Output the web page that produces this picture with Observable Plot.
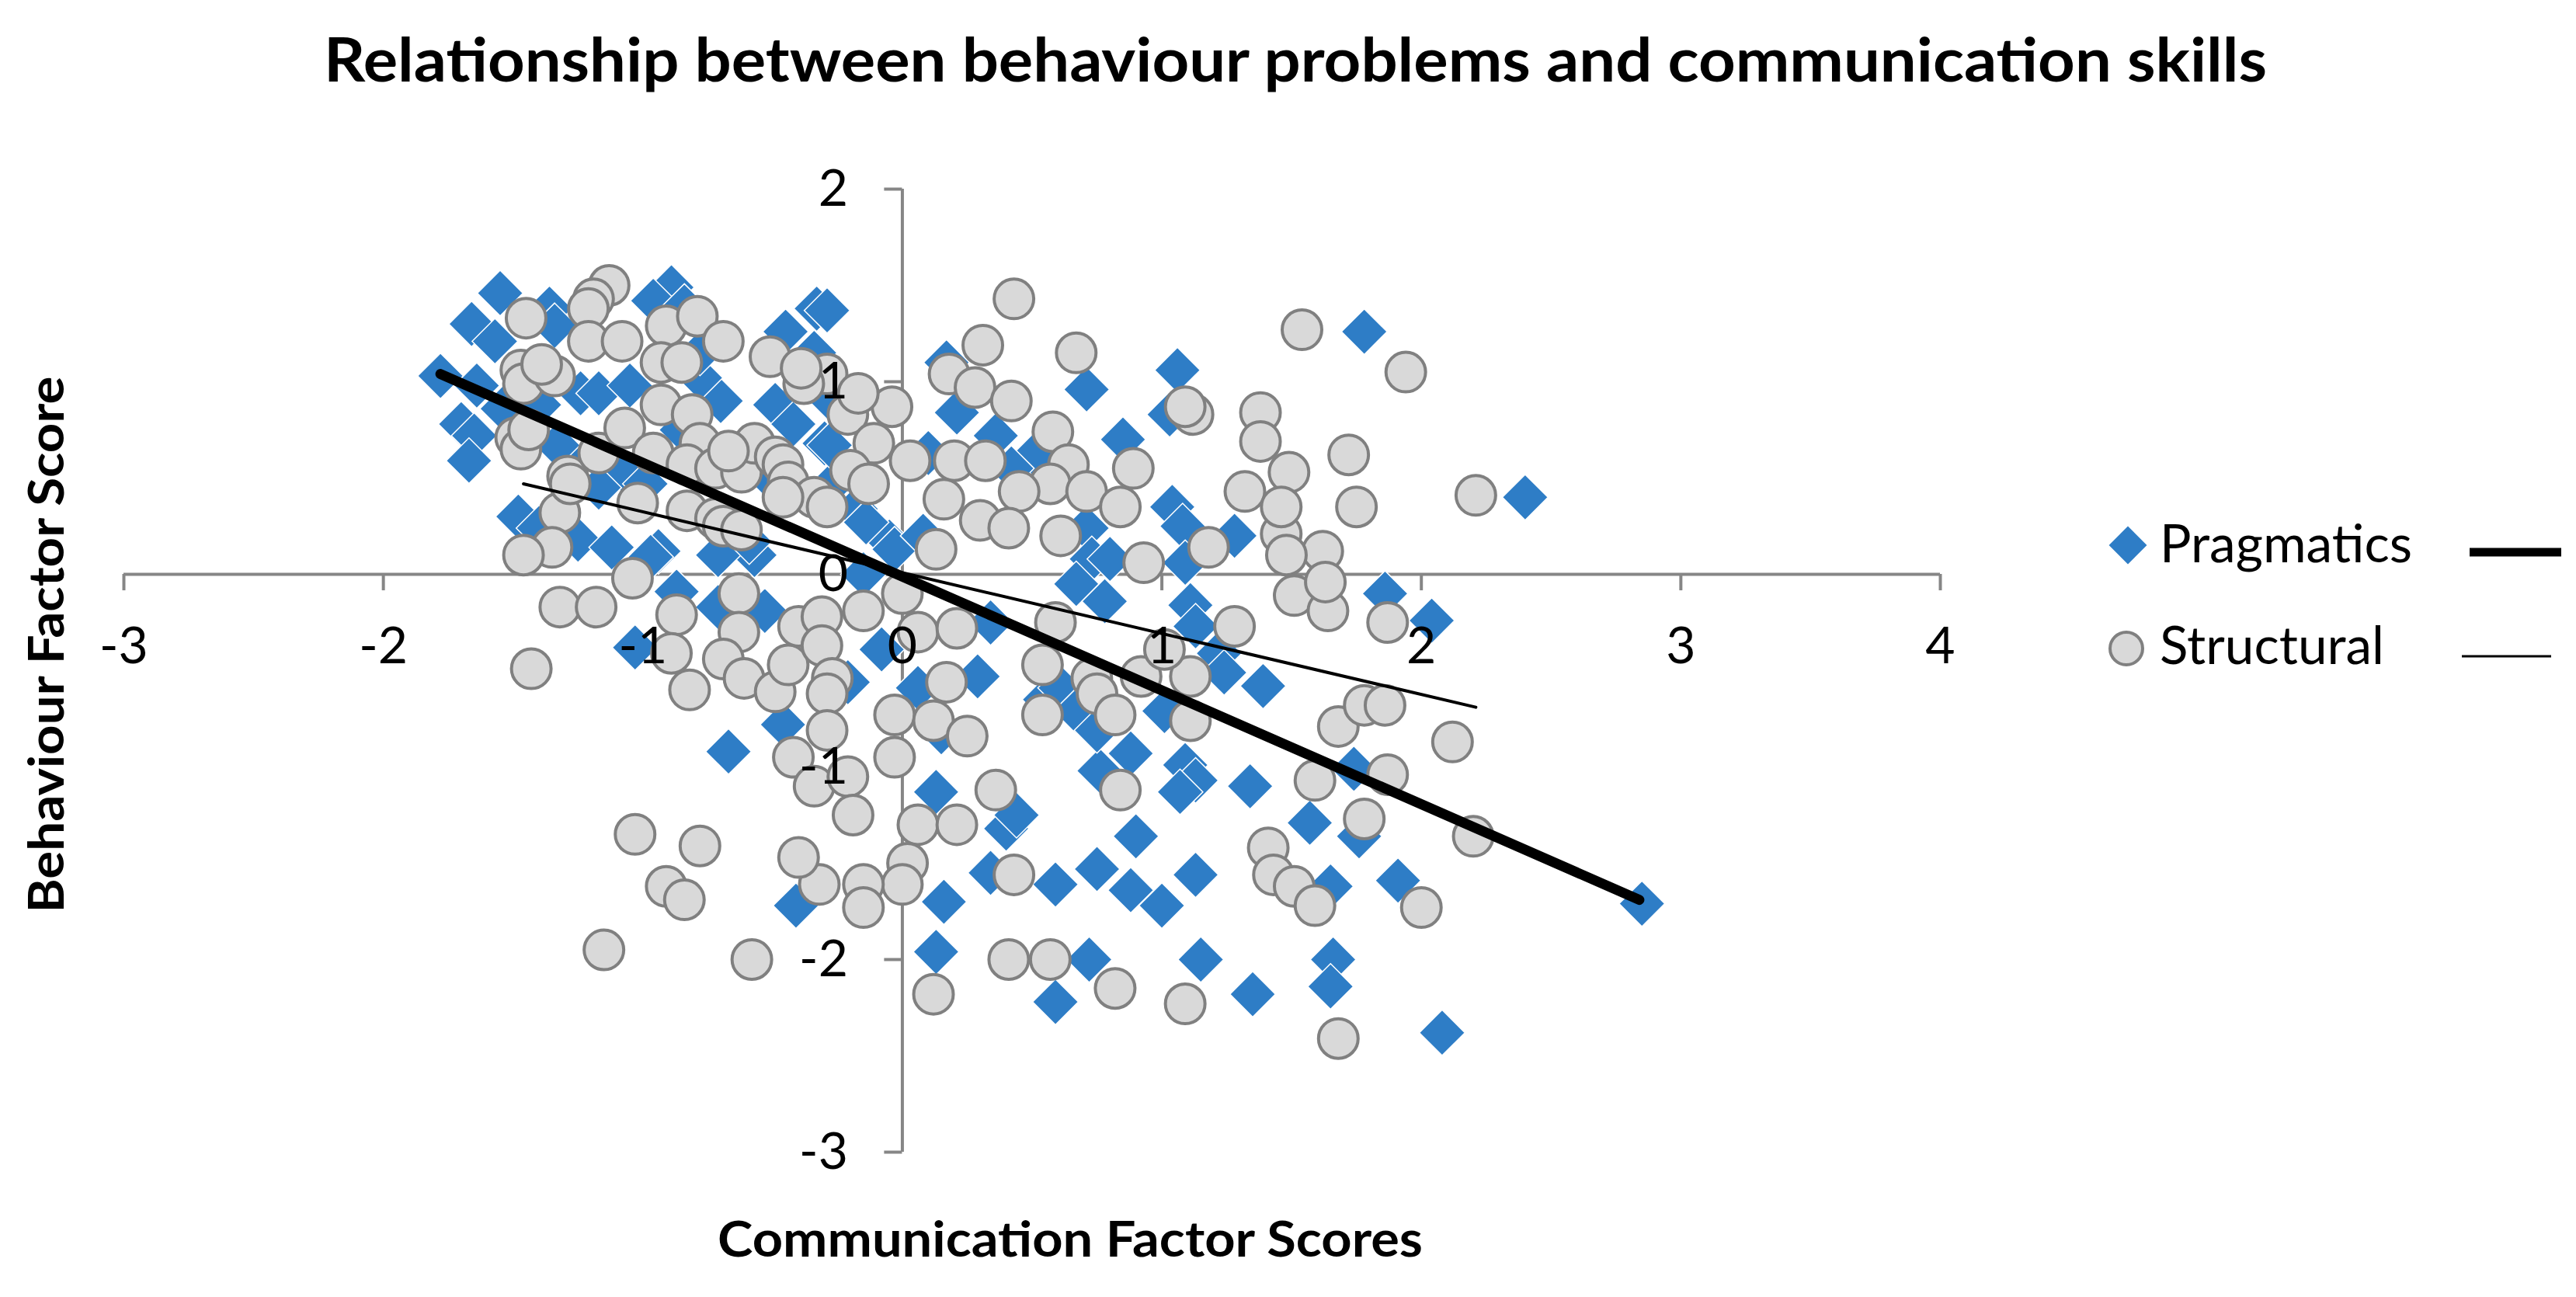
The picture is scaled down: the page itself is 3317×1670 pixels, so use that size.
<!DOCTYPE html>
<html><head><meta charset="utf-8">
<script src="https://cdn.jsdelivr.net/npm/d3@7"></script>
<script src="https://cdn.jsdelivr.net/npm/@observablehq/plot@0.6"></script>
<style>
html,body{margin:0;padding:0;background:#fff;}
#wrap{position:relative;width:3317px;height:1670px;overflow:hidden;background:#fff;}
#wrap svg{position:absolute;left:0;top:0;}
</style></head>
<body><div id="wrap"></div>
<script>
const titleText = "Relationship between behaviour problems and communication skills";
const xLabelText = "Communication Factor Scores";
const yLabelText = "Behaviour Factor Score";
const seriesNames = ["Pragmatics", "Structural"];
const xTicks = [-3, -2, -1, 0, 1, 2, 3, 4];
const yTicks = [-3, -2, -1, 0, 1, 2];

const pragmatics = [
[-1.55,1.46],[-1.66,1.30],[-1.57,1.21],[-1.36,1.38],[-1.34,1.29],[-1.78,1.03],[-1.64,0.98],[-1.70,0.78],
[-1.65,0.72],[-1.67,0.59],[-1.54,0.86],[-1.40,0.88],[-1.29,0.61],[-1.33,0.67],[-0.89,1.49],[-0.96,1.42],
[-0.84,1.39],[-0.70,0.90],[-0.78,1.02],[-0.33,1.38],[-0.45,1.26],[-0.34,1.15],[-0.49,0.88],[-0.42,0.78],
[-1.07,0.53],[-1.17,0.45],[-1.48,0.30],[-1.40,0.24],[-1.25,0.18],[-1.12,0.14],[-0.94,0.12],[-0.99,0.47],
[-0.57,0.10],[-0.71,0.10],[-1.24,0.94],[-1.17,0.94],[-0.85,0.75],[-1.05,0.98],[-0.78,1.15],[-0.52,0.51],
[-0.28,0.91],[-0.30,0.68],[-0.24,0.51],[-0.18,0.34],[-0.05,0.17],[-0.15,0.00],[-0.97,0.09],[-0.87,-0.09],
[-1.03,-0.38],[-0.59,0.17],[-0.29,1.37],[0.17,1.10],[0.21,0.84],[0.36,0.72],[0.71,0.96],[1.06,1.06],
[1.03,0.83],[0.85,0.70],[0.10,0.63],[0.51,0.62],[0.42,0.55],[1.04,0.35],[1.08,0.25],[1.28,0.20],
[-0.14,0.27],[-0.03,0.13],[0.08,0.20],[0.71,0.24],[0.73,0.08],[0.80,0.08],[1.09,0.06],[-0.28,0.67],
[1.78,1.26],[2.40,0.40],[-0.67,-0.92],[-0.46,-0.78],[-0.41,-1.72],[0.13,-1.13],[0.13,-1.96],[0.16,-1.70],
[0.34,-1.55],[0.40,-1.32],[0.44,-1.25],[0.59,-1.61],[0.75,-1.53],[0.88,-1.64],[1.00,-1.72],[0.90,-1.36],
[0.88,-0.93],[0.76,-1.02],[1.09,-0.99],[1.13,-1.07],[1.07,-1.13],[1.34,-1.10],[1.13,-1.56],[1.15,-2.00],
[0.59,-2.22],[0.72,-2.00],[1.35,-2.18],[1.66,-2.00],[1.65,-2.14],[1.65,-1.62],[1.57,-1.29],[1.76,-1.36],
[1.74,-1.01],[1.91,-1.59],[2.08,-2.38],[1.39,-0.58],[2.04,-0.24],[1.86,-0.10],[-0.08,-0.39],[-0.21,-0.56],
[0.06,-0.59],[0.29,-0.53],[0.55,-0.65],[0.61,-0.59],[0.67,-0.71],[0.75,-0.81],[1.01,-0.71],[1.11,-0.16],
[1.13,-0.27],[1.22,-0.41],[1.24,-0.51],[0.67,-0.05],[0.78,-0.14],[0.34,-0.25],[0.15,-0.82],[-0.71,-0.17],
[-0.53,-0.19],[2.85,-1.71]
];

const structural = [
[-1.13,1.50],[-1.19,1.43],[-1.21,1.38],[-1.45,1.33],[-1.21,1.21],[-1.08,1.21],[-0.91,1.29],[-0.79,1.34],
[-0.93,1.10],[-0.85,1.10],[-0.69,1.21],[-0.51,1.13],[-1.47,1.06],[-1.46,0.99],[-1.34,1.03],[-1.39,1.09],
[-1.49,0.71],[-1.47,0.65],[-1.44,0.75],[-1.29,0.51],[-1.17,0.63],[-1.07,0.76],[-0.96,0.63],[-0.93,0.88],
[-0.81,0.83],[-0.78,0.68],[-0.83,0.57],[-0.72,0.55],[-0.62,0.53],[-0.57,0.68],[-0.67,0.64],[-0.49,0.61],
[-0.46,0.57],[-0.44,0.48],[-0.34,0.40],[-0.46,0.40],[-0.29,0.35],[-1.02,0.37],[-0.83,0.33],[-0.72,0.29],
[-0.69,0.25],[-0.62,0.23],[-1.32,0.32],[-1.35,0.14],[-1.46,0.10],[-1.28,0.47],[-0.29,1.04],[-0.38,0.99],
[-0.39,1.07],[0.43,1.43],[0.31,1.19],[0.67,1.15],[0.18,1.04],[0.28,0.97],[0.42,0.90],[-0.21,0.83],
[-0.04,0.87],[-0.17,0.94],[-0.11,0.68],[-0.20,0.54],[-0.13,0.47],[0.03,0.59],[0.20,0.59],[0.32,0.59],
[0.58,0.74],[0.64,0.57],[0.57,0.47],[0.45,0.43],[0.71,0.43],[0.89,0.55],[0.84,0.35],[0.16,0.39],
[0.30,0.28],[0.41,0.24],[0.61,0.20],[0.13,0.13],[0.93,0.06],[1.12,0.83],[1.09,0.87],[1.38,0.84],
[1.38,0.69],[1.32,0.43],[1.18,0.14],[1.46,0.21],[1.54,1.27],[1.94,1.05],[1.72,0.62],[1.75,0.35],
[2.21,0.41],[1.49,0.53],[1.46,0.35],[1.62,0.12],[1.48,0.10],[-1.32,-0.17],[-1.18,-0.17],[-1.04,-0.02],
[-1.43,-0.49],[-0.87,-0.21],[-0.89,-0.41],[-0.82,-0.60],[-1.03,-1.35],[-0.91,-1.62],[-0.84,-1.69],[-1.15,-1.95],
[-0.63,-0.10],[-0.63,-0.30],[-0.69,-0.44],[-0.61,-0.54],[-0.49,-0.61],[-0.44,-0.47],[-0.40,-0.27],[-0.31,-0.22],
[-0.31,-0.37],[-0.27,-0.54],[-0.29,-0.62],[-0.29,-0.81],[-0.42,-0.95],[-0.34,-1.10],[-0.21,-1.05],[-0.19,-1.25],
[-0.03,-0.73],[-0.03,-0.95],[-0.15,-0.19],[0.00,-0.10],[0.06,-0.30],[0.17,-0.56],[0.12,-0.76],[0.25,-0.84],
[0.21,-0.28],[0.36,-1.12],[0.06,-1.30],[0.21,-1.30],[0.02,-1.50],[0.00,-1.61],[-0.15,-1.61],[-0.15,-1.73],
[-0.32,-1.61],[-0.40,-1.47],[-0.78,-1.41],[-0.58,-2.00],[0.12,-2.18],[0.41,-2.00],[0.57,-2.00],[0.82,-2.15],
[1.09,-2.23],[1.68,-2.41],[0.43,-1.56],[0.84,-1.12],[1.41,-1.42],[1.43,-1.56],[1.51,-1.62],[1.59,-1.72],
[2.00,-1.73],[1.59,-1.07],[1.78,-1.27],[1.87,-1.04],[1.68,-0.79],[1.78,-0.68],[1.86,-0.68],[2.12,-0.87],
[2.20,-1.36],[0.54,-0.47],[0.54,-0.73],[0.73,-0.54],[0.75,-0.62],[0.82,-0.73],[0.92,-0.53],[1.11,-0.76],
[1.11,-0.53],[1.01,-0.39],[1.28,-0.27],[0.59,-0.25],[1.51,-0.11],[1.64,-0.19],[1.87,-0.25],[1.63,-0.04]
];

const pragmaticsTrend = [[-1.78, 1.04], [2.84, -1.69]];
const structuralTrend = [[-1.46, 0.47], [2.21, -0.69]];

const BLUE = "#2E7DC6", GREYFILL = "#D9D9D9", GREYSTROKE = "#808080", AXIS = "#868686";
const FONT = "Lato, 'Open Sans', sans-serif";

const chart = Plot.plot({
  width: 3317, height: 1670,
  marginLeft: 159, marginRight: 819, marginTop: 243, marginBottom: 187,
  x: {domain: [-3, 4], axis: null},
  y: {domain: [-3, 2], axis: null},
  style: {background: "white", fontFamily: FONT},
  marks: [
    Plot.ruleY([0], {stroke: AXIS, strokeWidth: 4}),
    Plot.ruleX([0], {stroke: AXIS, strokeWidth: 4}),
    Plot.ruleX(xTicks, {x: d => d, y1: 0, y2: -0.085, stroke: AXIS, strokeWidth: 4}),
    Plot.ruleY(yTicks, {y: d => d, x1: 0, x2: -0.069, stroke: AXIS, strokeWidth: 4}),
    Plot.dot(pragmatics, {x: d => d[0], y: d => d[1], symbol: "diamond2", r: 26.5, fill: BLUE, stroke: "white", strokeWidth: 1.5}),
    Plot.dot(structural, {x: d => d[0], y: d => d[1], symbol: "circle", r: 25.5, fill: GREYFILL, stroke: GREYSTROKE, strokeWidth: 4}),
    Plot.line(pragmaticsTrend, {x: d => d[0], y: d => d[1], stroke: "black", strokeWidth: 13, strokeLinecap: "round"}),
    Plot.line(structuralTrend, {x: d => d[0], y: d => d[1], stroke: "black", strokeWidth: 4}),
    Plot.text(xTicks, {x: d => d, y: 0, text: d => String(d), dy: 93, fontSize: 66, fill: "black", textAnchor: "middle"}),
    Plot.text(yTicks, {x: 0, y: d => d, text: d => String(d), dx: -70, fontSize: 66, fill: "black", textAnchor: "end"})
  ]
});
const wrap = document.getElementById("wrap");
wrap.appendChild(chart);

// overlay: title, axis titles, legend
const ov = d3.select(wrap).append("svg")
  .attr("width", 3317).attr("height", 1670)
  .style("pointer-events", "none")
  .attr("font-family", FONT);

ov.append("text").attr("x", 1668).attr("y", 105).attr("text-anchor", "middle")
  .attr("font-size", 79).attr("font-weight", "bold")
  .attr("textLength", 2502).attr("lengthAdjust", "spacingAndGlyphs").text(titleText);

ov.append("text").attr("x", 1378).attr("y", 1618).attr("text-anchor", "middle")
  .attr("font-size", 64).attr("font-weight", "bold")
  .attr("textLength", 908).attr("lengthAdjust", "spacingAndGlyphs").text(xLabelText);

ov.append("text").attr("transform", "translate(82,830) rotate(-90)").attr("text-anchor", "middle")
  .attr("font-size", 63).attr("font-weight", "bold")
  .attr("textLength", 691).attr("lengthAdjust", "spacingAndGlyphs").text(yLabelText);

// legend
const lg = ov.append("g");
lg.append("path").attr("transform", "translate(2740,702)")
  .attr("d", d3.symbol(d3.symbolDiamond2, Math.PI * 22 * 22)()).attr("fill", BLUE);
lg.append("text").attr("x", 2781).attr("y", 724).attr("font-size", 67)
  .attr("textLength", 325).attr("lengthAdjust", "spacingAndGlyphs").text(seriesNames[0]);
lg.append("line").attr("x1", 3180).attr("x2", 3298).attr("y1", 711).attr("y2", 711)
  .attr("stroke", "black").attr("stroke-width", 11);

lg.append("circle").attr("cx", 2738).attr("cy", 835).attr("r", 21)
  .attr("fill", GREYFILL).attr("stroke", GREYSTROKE).attr("stroke-width", 4);
lg.append("text").attr("x", 2781).attr("y", 855).attr("font-size", 67)
  .attr("textLength", 289).attr("lengthAdjust", "spacingAndGlyphs").text(seriesNames[1]);
lg.append("line").attr("x1", 3170).attr("x2", 3285).attr("y1", 845).attr("y2", 845)
  .attr("stroke", "black").attr("stroke-width", 3);
</script>
</body></html>
